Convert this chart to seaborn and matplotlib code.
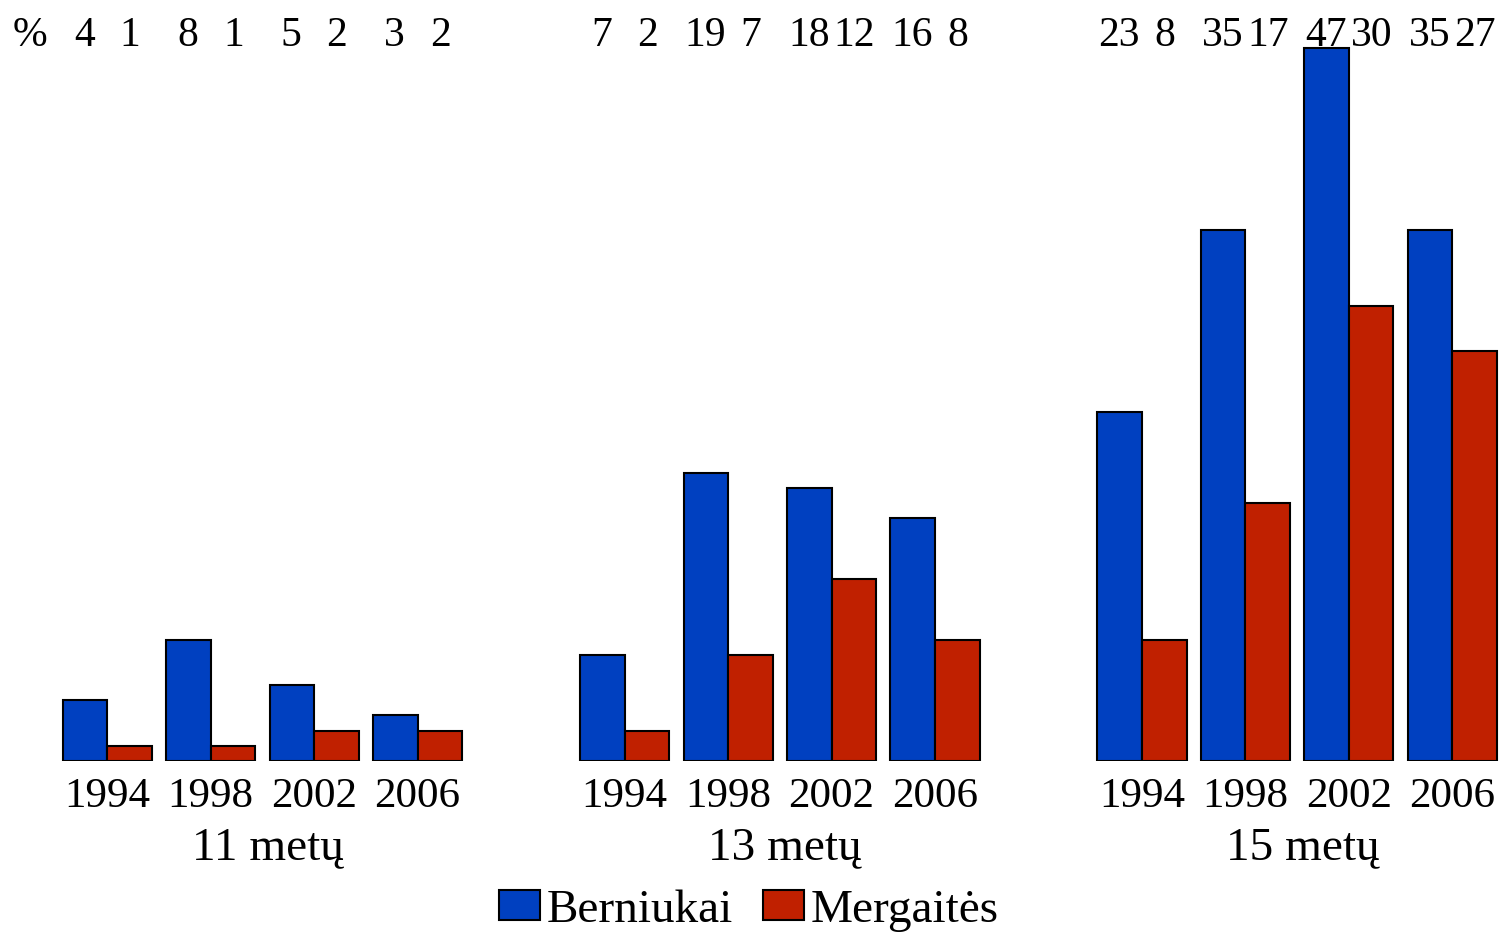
import pandas as pd
import numpy as np
import matplotlib.pyplot as plt
import matplotlib.patches as mpatches
import seaborn as sns

ages = ['11 metų', '13 metų', '15 metų']
years = ['1994', '1998', '2002', '2006']
berniukai = [[4, 8, 5, 3], [7, 19, 18, 16], [23, 35, 47, 35]]
mergaites = [[1, 1, 2, 2], [2, 7, 12, 8], [8, 17, 30, 27]]
sexes = ['Berniukai', 'Mergaitės']
colors = {'Berniukai': '#0040C0', 'Mergaitės': '#C02000'}

rows = []
for a, age in enumerate(ages):
    for y, year in enumerate(years):
        rows.append({'slot': age + ' ' + year, 'Lytis': 'Berniukai', 'pct': berniukai[a][y]})
        rows.append({'slot': age + ' ' + year, 'Lytis': 'Mergaitės', 'pct': mergaites[a][y]})
df = pd.DataFrame(rows)

# one empty slot between age groups
order = []
for a, age in enumerate(ages):
    if a > 0:
        order.append('gap%d' % a)
    order += [age + ' ' + year for year in years]

sns.set_style('white')
plt.rcParams['font.family'] = ['Liberation Serif', 'DejaVu Serif']
plt.rcParams['text.color'] = 'black'
fs_num = 30   # value row at the top
fs = 31       # years
fs_big = 34   # age groups and legend

px = 15.17   # pixels per percent, used to place text rows below/above the plot
fig = plt.figure(figsize=(15.06, 9.34), dpi=100)
ax = fig.add_axes([0, 173 / 934, 1, 758.5 / 934])
sns.barplot(data=df, x='slot', y='pct', hue='Lytis', order=order, hue_order=sexes,
            palette=colors, saturation=1, width=0.86, gap=0, dodge=True,
            edgecolor='black', linewidth=1.5, legend=False, ax=ax, errorbar=None)

ax.set_ylim(0, 50)
ax.set_xlim(-1.034, 13.517)
sns.despine(ax=ax, left=True, bottom=True, top=True, right=True)
ax.set_yticks([])
ax.set_xticks([])
ax.set_xlabel('')
ax.set_ylabel('')

y_num = (761 - 46) / px
y_year = -(807 - 761) / px
y_age = -(859 - 761) / px
for a, age in enumerate(ages):
    for y, year in enumerate(years):
        i = order.index(age + ' ' + year)
        ax.text(i - 0.22, y_num, str(berniukai[a][y]), ha='center', va='baseline', fontsize=fs_num)
        ax.text(i + 0.22, y_num, str(mergaites[a][y]), ha='center', va='baseline', fontsize=fs_num)
        ax.text(i, y_year, year, ha='center', va='baseline', fontsize=fs, clip_on=False)
    mid = order.index(age + ' ' + years[0]) + 1.55
    ax.text(mid, y_age, age, ha='center', va='baseline', fontsize=fs_big, clip_on=False)

ax.text(-0.744, y_num, '%', ha='center', va='baseline', fontsize=fs_num)

handles = [mpatches.Patch(facecolor=colors[s], edgecolor='black', linewidth=1.5, label=s) for s in sexes]
fig.legend(handles=handles, loc='lower center', bbox_to_anchor=(0.4973, 0.002), ncol=2,
           frameon=False, fontsize=fs_big, handlelength=0.87, handleheight=0.6,
           handletextpad=0.15, columnspacing=0.62, borderpad=0, borderaxespad=0)

fig.savefig('out.png', dpi=100)
